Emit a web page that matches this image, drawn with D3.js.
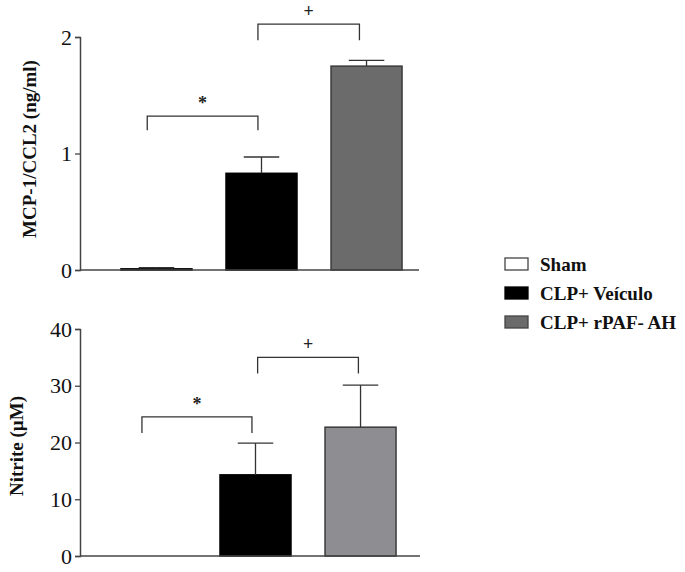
<!DOCTYPE html>
<html>
<head>
<meta charset="utf-8">
<script src="https://cdn.jsdelivr.net/npm/d3@7"></script>
<style>
  body { margin: 0; background: #fff; }
  svg { display: block; font-family: "Liberation Serif", "DejaVu Serif", serif; }
</style>
</head>
<body>
<svg id="chart" width="685" height="572"></svg>
<script>
// groups and values
const groups = ["Sham", "CLP+ Veículo", "CLP+ rPAF- AH"];
const mcpMean = [0.01, 0.83, 1.75];
const mcpErr = [0.01, 0.14, 0.05];
const nitriteMean = [0, 14.3, 22.7];
const nitriteErr = [0, 5.6, 7.4];
const mcpTicks = [0, 1, 2];
const nitriteTicks = [0, 10, 20, 30, 40];

const fills = ["#ffffff", "#000000", "#6b6b6b"];
const fillsBottom = ["#ffffff", "#000000", "#8e8e92"];
const strokes = ["#000000", "#000000", "#3a3a3a"];

const svg = d3.select("#chart");

function drawPanel(opts) {
  const g = svg.append("g");
  const x = d3.scaleBand()
    .domain(groups)
    .range(opts.xRange)
    .paddingInner(0.324)
    .paddingOuter(0.39);
  const y = d3.scaleLinear()
    .domain(opts.yDomain)
    .range(opts.yRange);

  // bars
  g.selectAll("rect.bar")
    .data(groups)
    .enter()
    .append("rect")
    .attr("class", "bar")
    .attr("x", d => x(d))
    .attr("width", x.bandwidth())
    .attr("y", (d, i) => y(opts.mean[i]))
    .attr("height", (d, i) => y(0) - y(opts.mean[i]))
    .attr("fill", (d, i) => opts.fills[i])
    .attr("stroke", (d, i) => opts.mean[i] > 0 ? strokes[i] : "none")
    .attr("stroke-width", 1.5);

  // error bars (upper only)
  const err = g.append("g").attr("stroke", "#333").attr("stroke-width", 1.3);
  groups.forEach((d, i) => {
    if (opts.err[i] <= 0) return;
    const cx = x(d) + x.bandwidth() / 2;
    const top = y(opts.mean[i] + opts.err[i]);
    err.append("line")
      .attr("x1", cx).attr("x2", cx)
      .attr("y1", y(opts.mean[i])).attr("y2", top);
    err.append("line")
      .attr("x1", cx - x.bandwidth() * 0.25).attr("x2", cx + x.bandwidth() * 0.25)
      .attr("y1", top).attr("y2", top);
  });

  // axes
  const axis = g.append("g")
    .attr("transform", `translate(${opts.axisX},0)`)
    .call(d3.axisLeft(y).tickValues(opts.ticks).tickSize(5).tickPadding(3).tickFormat(d3.format("d")));
  axis.select(".domain").attr("stroke", "#444").attr("stroke-width", 1.5);
  axis.selectAll(".tick line").attr("stroke", "#444").attr("stroke-width", 1.3);
  axis.selectAll(".tick text")
    .attr("font-family", "Liberation Serif, serif")
    .attr("font-size", 22)
    .attr("fill", "#111");

  g.append("line")
    .attr("x1", opts.axisX).attr("x2", opts.axisEnd)
    .attr("y1", y(0)).attr("y2", y(0))
    .attr("stroke", "#444").attr("stroke-width", 1.5);

  // y label
  g.append("text")
    .attr("transform", `translate(${opts.labelX},${opts.labelY}) rotate(-90)`)
    .attr("text-anchor", "middle")
    .attr("font-weight", "bold")
    .attr("font-size", 19)
    .attr("fill", "#111")
    .text(opts.label);

  // significance brackets
  opts.brackets.forEach(b => {
    const x1 = x(groups[b.from]) + x.bandwidth() * b.fromFrac;
    const x2 = x(groups[b.to]) + x.bandwidth() * b.toFrac;
    const yy = y(b.level);
    g.append("path")
      .attr("d", `M${x1},${yy + b.leg}V${yy}H${x2}V${yy + b.leg}`)
      .attr("fill", "none")
      .attr("stroke", "#333")
      .attr("stroke-width", 1.3);
    g.append("text")
      .attr("x", (x1 + x2) / 2)
      .attr("y", yy - 7)
      .attr("text-anchor", "middle")
      .attr("font-size", 18)
      .attr("font-weight", "bold")
      .attr("fill", "#222")
      .text(b.mark);
  });
}

drawPanel({
  xRange: [80, 443],
  yDomain: [0, 2],
  yRange: [270, 37],
  ticks: mcpTicks,
  mean: mcpMean,
  err: mcpErr,
  fills: fills,
  axisX: 80,
  axisEnd: 419,
  label: "MCP-1/CCL2 (ng/ml)",
  labelX: 36,
  labelY: 149,
  brackets: [
    { from: 0, to: 1, fromFrac: 0.37, toFrac: 0.45, level: 1.32, leg: 14, mark: "*" },
    { from: 1, to: 2, fromFrac: 0.45, toFrac: 0.4, level: 2.11, leg: 16, mark: "+" }
  ]
});

drawPanel({
  xRange: [74, 437],
  yDomain: [0, 40],
  yRange: [556, 329],
  ticks: nitriteTicks,
  mean: nitriteMean,
  err: nitriteErr,
  fills: fillsBottom,
  axisX: 80,
  axisEnd: 420,
  label: "Nitrite (µM)",
  labelX: 23,
  labelY: 446,
  brackets: [
    { from: 0, to: 1, fromFrac: 0.38, toFrac: 0.45, level: 24.5, leg: 16, mark: "*" },
    { from: 1, to: 2, fromFrac: 0.53, toFrac: 0.47, level: 35, leg: 16, mark: "+" }
  ]
});

// legend
const legend = svg.append("g").attr("transform", "translate(505,258)");
groups.forEach((d, i) => {
  const row = legend.append("g").attr("transform", `translate(0,${i * 29})`);
  row.append("rect")
    .attr("width", 23).attr("height", 12)
    .attr("fill", fills[i])
    .attr("stroke", i === 1 ? "#000" : "#444")
    .attr("stroke-width", 1.3);
  row.append("text")
    .attr("x", 35).attr("y", 13)
    .attr("font-size", 19)
    .attr("font-weight", "bold")
    .attr("fill", "#111")
    .text(d);
});
</script>
</body>
</html>
